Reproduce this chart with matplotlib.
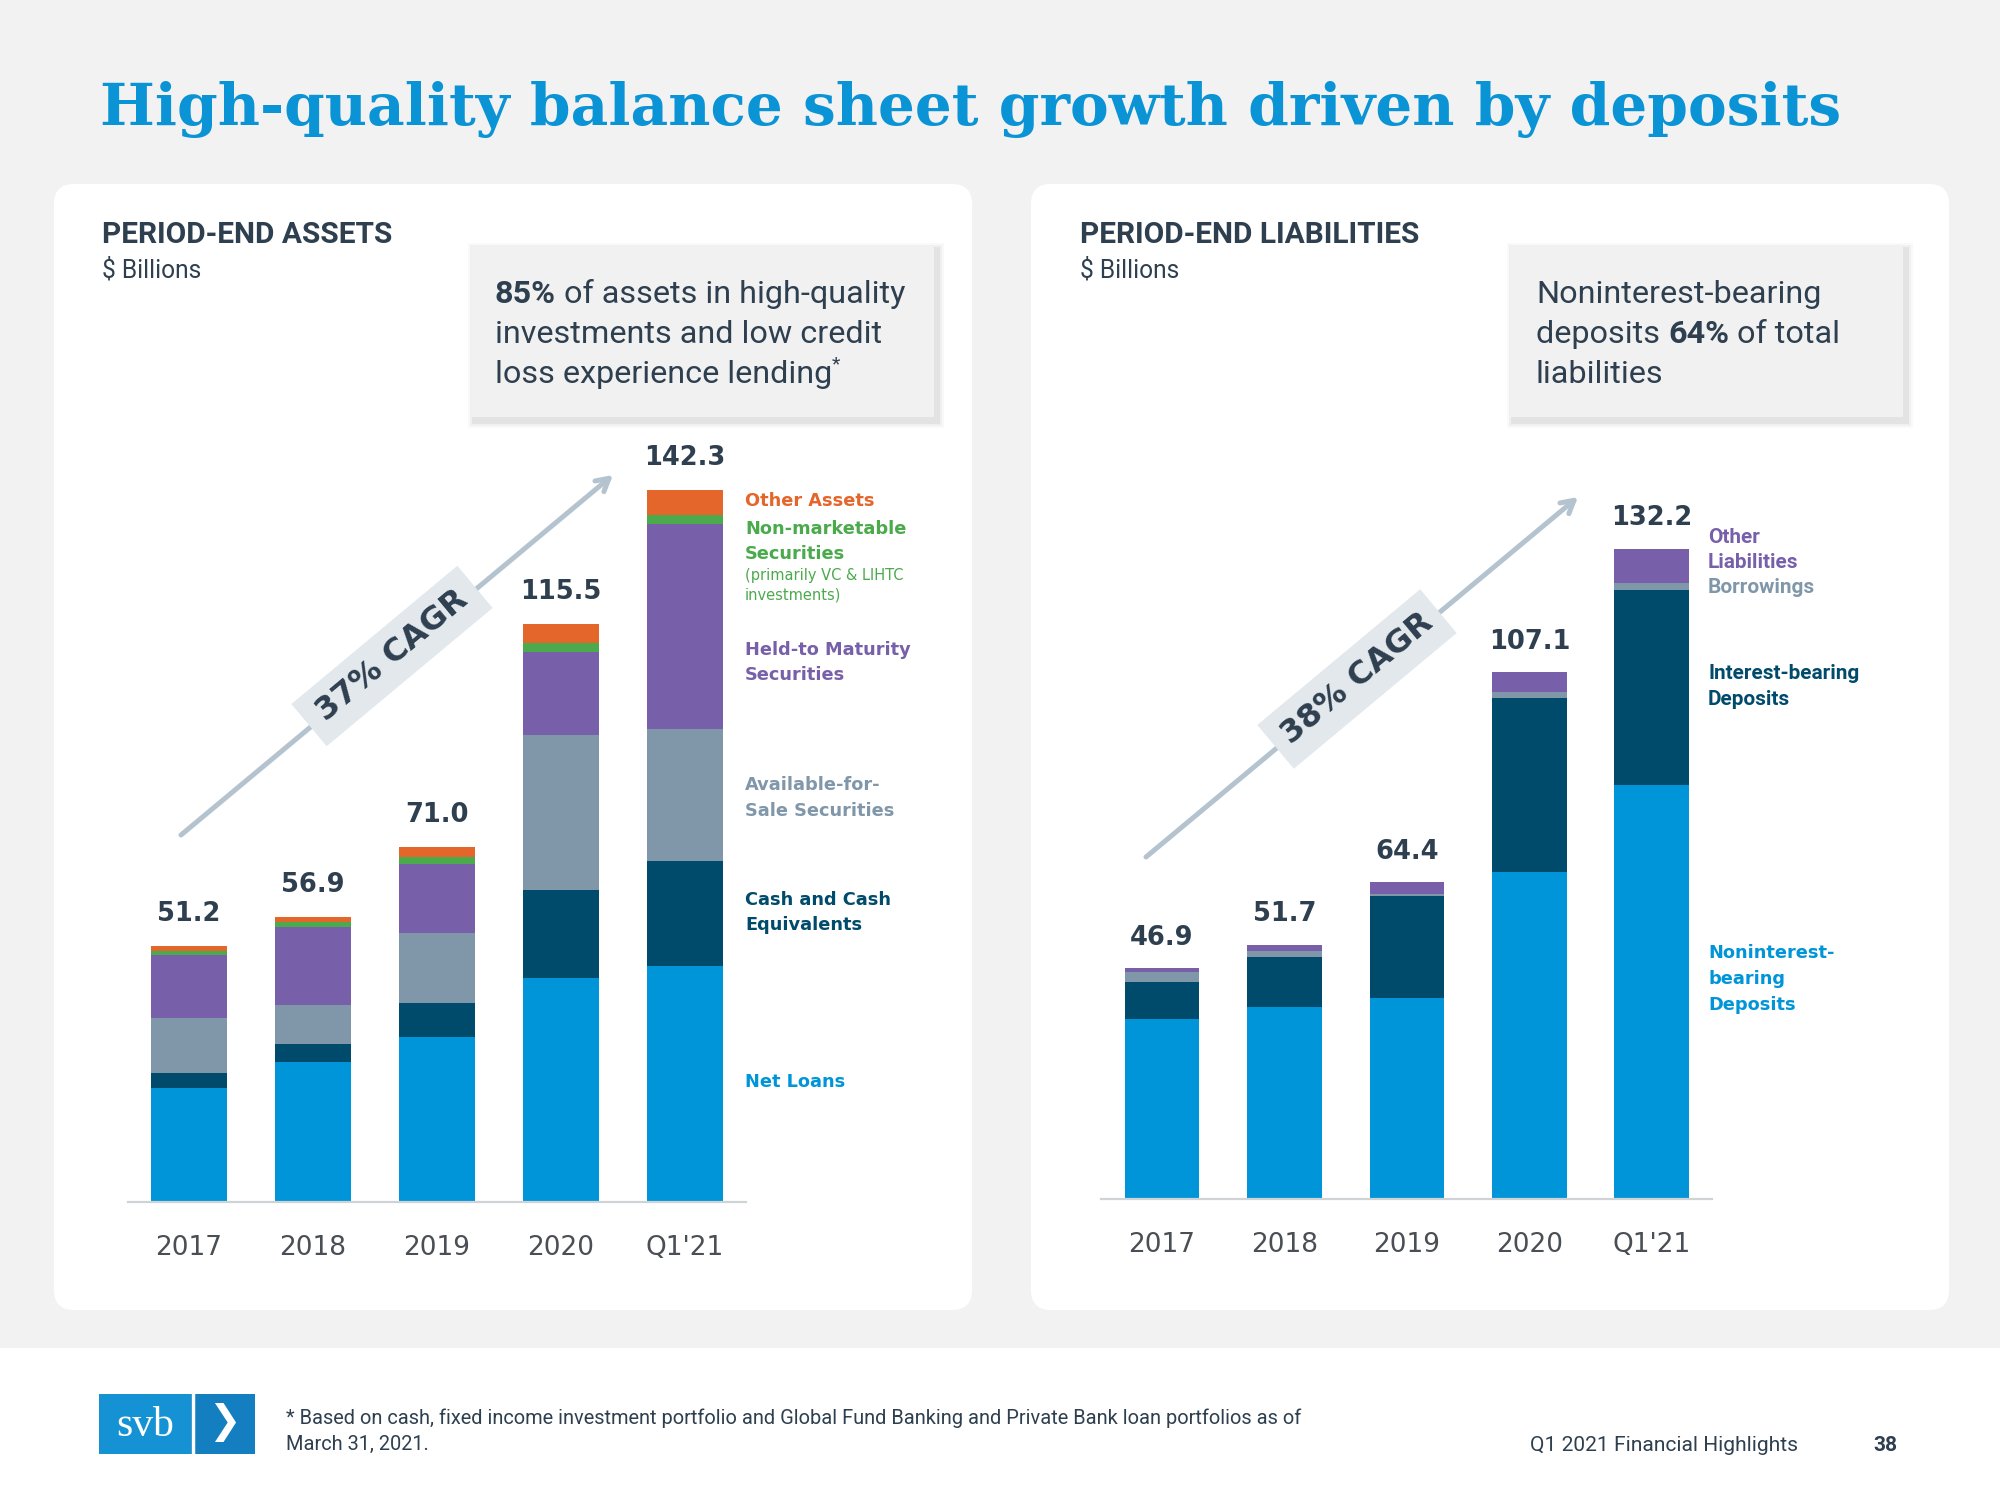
import matplotlib
matplotlib.use("Agg")
import matplotlib.pyplot as plt
from matplotlib.patches import FancyBboxPatch, Rectangle, Polygon
import numpy as np

# ---------------- data ----------------
periods = ['2017', '2018', '2019', '2020', "Q1'21"]

asset_totals = [51.2, 56.9, 71.0, 115.5, 142.3]
net_loans = [22.8, 28.0, 32.9, 44.7, 47.1]
cash_equiv = [2.9, 3.6, 6.8, 17.7, 21.1]
afs_securities = [11.0, 7.8, 14.0, 30.9, 26.3]
htm_securities = [12.7, 15.5, 13.8, 16.6, 41.0]
nonmkt_securities = [0.8, 1.1, 1.4, 1.8, 1.8]
other_assets = [1.0, 0.9, 2.1, 3.8, 5.0]

liab_totals = [46.9, 51.7, 64.4, 107.1, 132.2]
nonint_deposits = [36.6, 39.0, 40.8, 66.5, 84.2]
int_deposits = [7.6, 10.2, 20.8, 35.4, 39.6]
borrowings = [1.9, 1.2, 0.3, 1.1, 1.4]
other_liab = [0.8, 1.3, 2.5, 4.1, 7.0]

assets_cagr = "37% CAGR"
liab_cagr = "38% CAGR"

# ---------------- styles ----------------
C_BLUE = '#0095d9'
C_NAVY = '#004a6b'
C_GRAY = '#8097aa'
C_PURPLE = '#7760a9'
C_GREEN = '#4aaa4c'
C_ORANGE = '#e5662a'
C_TEXT = '#2e3f4f'
C_TITLE = '#0a93d5'
C_BG = '#f2f2f2'
C_TICK = '#4a4f55'

COND = ['Roboto', 'DejaVu Sans']
WIDE = ['DejaVu Sans']

W, H = 2000, 1500
fig = plt.figure(figsize=(20, 15), dpi=100)
fig.patch.set_facecolor(C_BG)

bg = fig.add_axes([0, 0, 1, 1], zorder=0)
bg.set_xlim(0, W)
bg.set_ylim(H, 0)
bg.axis('off')
renderer = fig.canvas.get_renderer()


def fit(t, width):
    bb = t.get_window_extent(renderer=renderer)
    t.set_fontsize(t.get_fontsize() * width / bb.width)
    return t


# footer band
bg.add_patch(Rectangle((0, 1348), W, H - 1348, facecolor='white', edgecolor='none'))

# panels
for x0 in (54, 1031):
    bg.add_patch(FancyBboxPatch((x0, 184), 918, 1126,
                                boxstyle='round,pad=0,rounding_size=20',
                                facecolor='white', edgecolor='none'))

# title
t = bg.text(100, 125, 'High-quality balance sheet growth driven by deposits',
            color=C_TITLE, fontsize=50, fontweight='bold', family=['DejaVu Serif'],
            ha='left', va='baseline')
fit(t, 1743)

# panel headings
h1 = bg.text(102, 243, 'PERIOD-END ASSETS', color=C_TEXT, fontsize=20, fontweight='bold',
             family=COND, ha='left', va='baseline')
fit(h1, 291)
bg.text(102, 277, '$ Billions', color=C_TEXT, fontsize=h1.get_fontsize() * 0.82,
        family=COND, ha='left', va='baseline')
h2 = bg.text(1080, 243, 'PERIOD-END LIABILITIES', color=C_TEXT, fontsize=h1.get_fontsize(),
             fontweight='bold', family=COND, ha='left', va='baseline')
bg.text(1080, 277, '$ Billions', color=C_TEXT, fontsize=h1.get_fontsize() * 0.82,
        family=COND, ha='left', va='baseline')


# callout boxes
def callout(x0, y0, w, h):
    for k, a in ((7, 0.025), (5, 0.035), (3, 0.05)):
        bg.add_patch(Rectangle((x0 - k + 3, y0 - k + 4), w + 2 * k, h + 2 * k,
                               facecolor='black', alpha=a, edgecolor='none'))
    bg.add_patch(Rectangle((x0, y0), w, h, facecolor='#f1f1f1', edgecolor='none'))


callout(472, 246, 462, 171)
callout(1511, 246, 392, 171)

b1 = bg.text(495, 303, '85%', color=C_TEXT, fontsize=22, fontweight='bold',
             family=COND, ha='left', va='baseline')
tmp = bg.text(495, 303, '85% of assets in high-quality', color=C_TEXT, fontsize=22,
              family=COND, ha='left', va='baseline')
fit(tmp, 409)
CFS = tmp.get_fontsize()
tmp.remove()
b1.set_fontsize(CFS)
bg.annotate(' of assets in high-quality', xy=(1, 0), xycoords=b1, color=C_TEXT,
            fontsize=CFS, family=COND, ha='left', va='bottom')
bg.text(495, 343, 'investments and low credit', color=C_TEXT, fontsize=CFS,
        family=COND, ha='left', va='baseline')
l3 = bg.text(495, 383, 'loss experience lending', color=C_TEXT, fontsize=CFS,
             family=COND, ha='left', va='baseline')
bg.annotate('*', xy=(1, 0.55), xycoords=l3, color=C_TEXT, fontsize=CFS * 0.6,
            family=COND, ha='left', va='bottom')

bg.text(1536, 303, 'Noninterest-bearing', color=C_TEXT, fontsize=CFS,
        family=COND, ha='left', va='baseline')
d1 = bg.text(1536, 343, 'deposits ', color=C_TEXT, fontsize=CFS,
             family=COND, ha='left', va='baseline')
d2 = bg.annotate('64%', xy=(1, 0), xycoords=d1, color=C_TEXT, fontsize=CFS,
                 fontweight='bold', family=COND, ha='left', va='bottom')
bg.annotate(' of total', xy=(1, 0), xycoords=d2, color=C_TEXT, fontsize=CFS,
            family=COND, ha='left', va='bottom')
bg.text(1536, 383, 'liabilities', color=C_TEXT, fontsize=CFS,
        family=COND, ha='left', va='baseline')


# CAGR arrows and boxes
def cagr(start, end, center, L, Wd, label):
    bg.annotate('', xy=end, xytext=start,
                arrowprops=dict(arrowstyle='->,head_length=0.9,head_width=0.5',
                                color='#b5c3cf', lw=3.6, shrinkA=0, shrinkB=0))
    ang = np.degrees(np.arctan2(start[1] - end[1], end[0] - start[0]))
    th = np.radians(ang)
    u = np.array([np.cos(th), -np.sin(th)])
    n = np.array([np.sin(th), np.cos(th)])
    c = np.array(center)
    pts = [c - L / 2 * u - Wd / 2 * n, c + L / 2 * u - Wd / 2 * n,
           c + L / 2 * u + Wd / 2 * n, c - L / 2 * u + Wd / 2 * n]
    bg.add_patch(Polygon(pts, closed=True, facecolor='#e3e8ec', edgecolor='none', zorder=3))
    bg.text(c[0], c[1], label, rotation=ang, rotation_mode='anchor', ha='center',
            va='center', color=C_TEXT, fontsize=23, fontweight='bold', family=WIDE, zorder=4)


cagr((181, 835), (613, 475), (392, 656), 216, 55, assets_cagr)
cagr((1146, 857), (1578, 497), (1357, 679), 212, 57, liab_cagr)

# ---------------- charts ----------------
x = np.arange(len(periods))


def setup(ax):
    ax.set_facecolor('none')
    for s in ('top', 'right', 'left'):
        ax.spines[s].set_visible(False)
    ax.spines['bottom'].set_color('#cfd3d6')
    ax.spines['bottom'].set_linewidth(1.6)
    ax.set_yticks([])
    ax.set_xticks(x)
    ax.set_xticklabels(periods, fontsize=19, color=C_TICK, family=WIDE)
    ax.tick_params(axis='x', length=0, pad=24)
    ax.set_ylim(0, 150)


# left: assets
axL = fig.add_axes([128 / W, 1 - 1201.5 / H, 618 / W, 150 * 5.0 / H], zorder=2)
axL.set_xlim(-0.492, 4.492)
setup(axL)
bw = 0.617
bottom = np.zeros(len(x))
for vals, col in ((net_loans, C_BLUE), (cash_equiv, C_NAVY), (afs_securities, C_GRAY),
                  (htm_securities, C_PURPLE), (nonmkt_securities, C_GREEN),
                  (other_assets, C_ORANGE)):
    axL.bar(x, vals, bw, bottom=bottom, color=col, edgecolor='none')
    bottom += np.array(vals)
for i, v in enumerate(asset_totals):
    axL.annotate(f'{v:.1f}', xy=(x[i], v), xytext=(0, 23), textcoords='offset points',
                 ha='center', va='center', fontsize=18.5, fontweight='bold',
                 color=C_TEXT, family=WIDE)

# right: liabilities
axR = fig.add_axes([1101 / W, 1 - 1199 / H, 611 / W, 150 * 4.92 / H], zorder=2)
axR.set_xlim(-0.498, 4.49)
setup(axR)
bw = 0.612
bottom = np.zeros(len(x))
for vals, col in ((nonint_deposits, C_BLUE), (int_deposits, C_NAVY), (borrowings, C_GRAY),
                  (other_liab, C_PURPLE)):
    axR.bar(x, vals, bw, bottom=bottom, color=col, edgecolor='none')
    bottom += np.array(vals)
for i, v in enumerate(liab_totals):
    axR.annotate(f'{v:.1f}', xy=(x[i], v), xytext=(0, 22), textcoords='offset points',
                 ha='center', va='center', fontsize=18.5, fontweight='bold',
                 color=C_TEXT, family=WIDE)

# ---------------- legend labels ----------------
LFS = 12.8
leg_left = [
    (506, 'Other Assets', C_ORANGE, 'bold', LFS),
    (534, 'Non-marketable', C_GREEN, 'bold', LFS),
    (559, 'Securities', C_GREEN, 'bold', LFS),
    (580, '(primarily VC & LIHTC', C_GREEN, 'normal', 10.5),
    (600, 'investments)', C_GREEN, 'normal', 10.5),
    (655, 'Held-to Maturity', C_PURPLE, 'bold', LFS),
    (680, 'Securities', C_PURPLE, 'bold', LFS),
    (790, 'Available-for-', C_GRAY, 'bold', LFS),
    (816, 'Sale Securities', C_GRAY, 'bold', LFS),
    (905, 'Cash and Cash', C_NAVY, 'bold', LFS),
    (930, 'Equivalents', C_NAVY, 'bold', LFS),
    (1087, 'Net Loans', C_BLUE, 'bold', LFS),
]
for yy, s, c, wgt, fs in leg_left:
    bg.text(745, yy, s, color=c, fontweight=wgt, fontsize=fs, family=WIDE,
            ha='left', va='baseline', zorder=5)

ib = bg.text(1708, 679, 'Interest-bearing', color=C_NAVY, fontweight='bold', fontsize=16,
             family=COND, ha='left', va='baseline', zorder=5)
fit(ib, 152)
RFS = ib.get_fontsize()
leg_right = [
    (543, 'Other', C_PURPLE),
    (568, 'Liabilities', C_PURPLE),
    (593, 'Borrowings', C_GRAY),
    (705, 'Deposits', C_NAVY),
]
for yy, s, c in leg_right:
    bg.text(1708, yy, s, color=c, fontweight='bold', fontsize=RFS, family=COND,
            ha='left', va='baseline', zorder=5)
for yy, s in ((958, 'Noninterest-'), (984, 'bearing'), (1010, 'Deposits')):
    bg.text(1708, yy, s, color=C_BLUE, fontweight='bold', fontsize=LFS, family=WIDE,
            ha='left', va='baseline', zorder=5)

# ---------------- footer ----------------
bg.add_patch(Rectangle((99, 1394), 92, 60, facecolor='#1592d3', edgecolor='none'))
bg.add_patch(Rectangle((191, 1394), 64, 60, facecolor='#137fc0', edgecolor='none'))
bg.plot([193, 193], [1394, 1454], color='white', lw=2.5)
bg.text(145, 1426, 'svb', color='white', fontsize=30, family=['Liberation Serif'],
        ha='center', va='center')
bg.text(224, 1423, '\u276F', color='white', fontsize=28, family=['DejaVu Sans'],
        ha='center', va='center')

fn1 = bg.text(286, 1424, '* Based on cash, fixed income investment portfolio and Global Fund Banking '
              'and Private Bank loan portfolios as of', color=C_TEXT, fontsize=14,
              family=COND, ha='left', va='baseline')
fit(fn1, 1020)
bg.text(286, 1450, 'March 31, 2021.', color=C_TEXT, fontsize=fn1.get_fontsize(),
        family=COND, ha='left', va='baseline')
fh = bg.text(1798, 1451, 'Q1 2021 Financial Highlights', color=C_TEXT, fontsize=14,
             family=COND, ha='right', va='baseline')
fit(fh, 269)
bg.text(1898, 1451, '38', color=C_TEXT, fontsize=fh.get_fontsize(), fontweight='bold',
        family=COND, ha='right', va='baseline')

fig.savefig('out.png', dpi=100, facecolor=C_BG)
